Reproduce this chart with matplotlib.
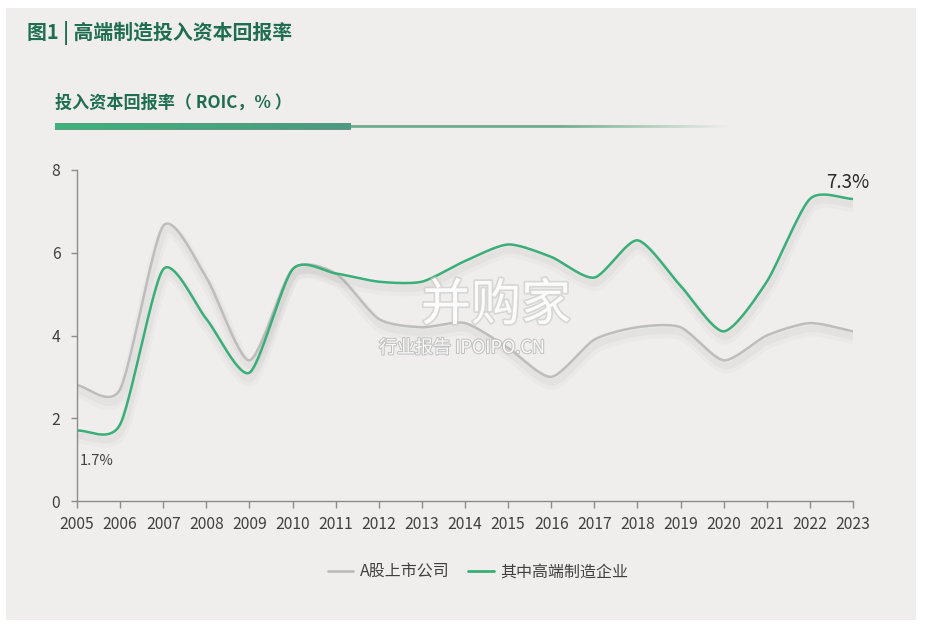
import numpy as np
import matplotlib
matplotlib.use("Agg")
import matplotlib.pyplot as plt
import matplotlib.patheffects as pe
from matplotlib.patches import Rectangle

plt.rcParams['font.family'] = ['Noto Sans CJK SC', 'DejaVu Sans']

years = list(range(2005, 2024))
a_share = [2.8, 2.7, 6.65, 5.4, 3.4, 5.6, 5.5, 4.4, 4.2, 4.3, 3.7, 3.0, 3.9, 4.2, 4.2, 3.4, 4.0, 4.3, 4.1]
high_end = [1.7, 1.85, 5.6, 4.4, 3.1, 5.6, 5.5, 5.3, 5.3, 5.8, 6.2, 5.9, 5.4, 6.3, 5.2, 4.1, 5.3, 7.3, 7.3]
series_names = ['A股上市公司', '其中高端制造企业']
series_colors = ['#bdbdbd', '#3aae78']

W, H = 928, 633
GREEN_DARK = '#1f6e52'
TEXT = '#404040'


def smooth(x, y, n=30, k=0.72):
    """Cardinal spline through the points (Excel style smoothed line)."""
    x = np.asarray(x, float)
    y = np.asarray(y, float)
    px = np.concatenate([[2 * x[0] - x[1]], x, [2 * x[-1] - x[-2]]])
    py = np.concatenate([[2 * y[0] - y[1]], y, [2 * y[-1] - y[-2]]])
    t = np.linspace(0, 1, n, endpoint=False)
    h00 = 2 * t ** 3 - 3 * t ** 2 + 1
    h10 = t ** 3 - 2 * t ** 2 + t
    h01 = -2 * t ** 3 + 3 * t ** 2
    h11 = t ** 3 - t ** 2
    xs, ys = [], []
    for i in range(1, len(px) - 2):
        for p, out in ((px, xs), (py, ys)):
            m1 = k * (p[i + 1] - p[i - 1]) / 2
            m2 = k * (p[i + 2] - p[i]) / 2
            out.extend(h00 * p[i] + h10 * m1 + h01 * p[i + 1] + h11 * m2)
    xs.append(x[-1])
    ys.append(y[-1])
    return np.array(xs), np.array(ys)


fig = plt.figure(figsize=(W / 100, H / 100), dpi=100, facecolor='white')

# grey panel
fig.patches.append(Rectangle((6 / W, 1 - 620 / H), 910 / W, 612 / H,
                             transform=fig.transFigure, facecolor='#efeeec',
                             edgecolor='none', zorder=-10))

# titles
fig.text(27 / W, 1 - 33 / H, '图1 | 高端制造投入资本回报率', fontsize=14.3, fontweight='bold',
         color=GREEN_DARK, va='center', ha='left')
fig.text(55 / W, 1 - 103 / H, '投入资本回报率（ ROIC，% ）', fontsize=12.3, fontweight='bold',
         color=GREEN_DARK, va='center', ha='left')

# gradient underline
ux0, ux1, uy0, uy1 = 55, 730, 122, 133
bar = np.zeros((uy1 - uy0, ux1 - ux0, 4))
c_left = np.array(matplotlib.colors.to_rgb('#3cb27a'))
c_right = np.array(matplotlib.colors.to_rgb('#4c9a82'))
for j in range(ux1 - ux0):
    px = ux0 + j
    if px < 351:
        f = j / (351 - ux0)
        bar[2:8, j, :3] = c_left * (1 - f) + c_right * f
        bar[2:8, j, 3] = 1
    else:
        fade = 1.0 if px < 560 else max(0.0, 1 - (px - 560) / 170)
        bar[4:6, j, :3] = c_left
        bar[4:6, j, 3] = 0.85 * fade
uax = fig.add_axes([ux0 / W, 1 - uy1 / H, (ux1 - ux0) / W, (uy1 - uy0) / H])
uax.imshow(bar, aspect='auto', interpolation='bilinear')
uax.axis('off')

# main chart
ax = fig.add_axes([77 / W, 1 - 501 / H, (853 - 77) / W, (501 - 170) / H])
ax.set_facecolor('none')

shadow = [pe.SimpleLineShadow(offset=(1, -5), shadow_color='#9a9a9a', alpha=0.06, linewidth=9),
          pe.SimpleLineShadow(offset=(1, -4), shadow_color='#9a9a9a', alpha=0.08, linewidth=5),
          pe.Normal()]

for vals, name, color in zip([a_share, high_end], series_names, series_colors):
    sx, sy = smooth(years, vals)
    ax.plot(sx, sy, color=color, linewidth=1.8, label=name, path_effects=shadow,
            solid_capstyle='round')

ax.set_xlim(years[0], years[-1])
ax.set_ylim(0, 8)
ax.set_xticks(years)
ax.set_yticks([0, 2, 4, 6, 8])
for s in ['top', 'right']:
    ax.spines[s].set_visible(False)
for s in ['left', 'bottom']:
    ax.spines[s].set_color('#8c8c8c')
    ax.spines[s].set_linewidth(1)
ax.tick_params(axis='x', colors='#8c8c8c', length=5, width=1, pad=6, labelsize=11.3, labelcolor=TEXT)
ax.tick_params(axis='y', colors='#8c8c8c', length=4, width=1, pad=8, labelsize=11.3, labelcolor=TEXT)

ax.annotate('1.7%', xy=(years[0], high_end[0]), xytext=(2, -22), textcoords='offset points',
            fontsize=10.5, color=TEXT, ha='left', va='center')
ax.annotate('7.3%', xy=(years[-1], high_end[-1]), xytext=(-4, 12), textcoords='offset points',
            fontsize=13.5, color='#2a2a2a', ha='center', va='center', fontweight='medium')

# watermark
wm = [pe.withStroke(linewidth=2.5, foreground='#c8c8c8', alpha=0.6)]
fig.text(496 / W, 1 - 306 / H, '并购家', fontsize=36, color='white', ha='center', va='center',
         alpha=0.9, path_effects=wm)
fig.text(462 / W, 1 - 348 / H, '行业报告 IPOIPO.CN', fontsize=13, color='white', ha='center',
         va='center', alpha=0.9, path_effects=[pe.withStroke(linewidth=1.5, foreground='#bdbdbd')])

leg = ax.legend(loc='center', bbox_to_anchor=(478 / W, 1 - 572 / H), bbox_transform=fig.transFigure,
                ncol=2, frameon=False, fontsize=11.5, handlelength=1.6, handletextpad=0.4,
                columnspacing=1.2, labelcolor=TEXT)
for line in leg.get_lines():
    line.set_path_effects([])
    line.set_linewidth(2)

fig.savefig('out.png', dpi=100, facecolor='white')
